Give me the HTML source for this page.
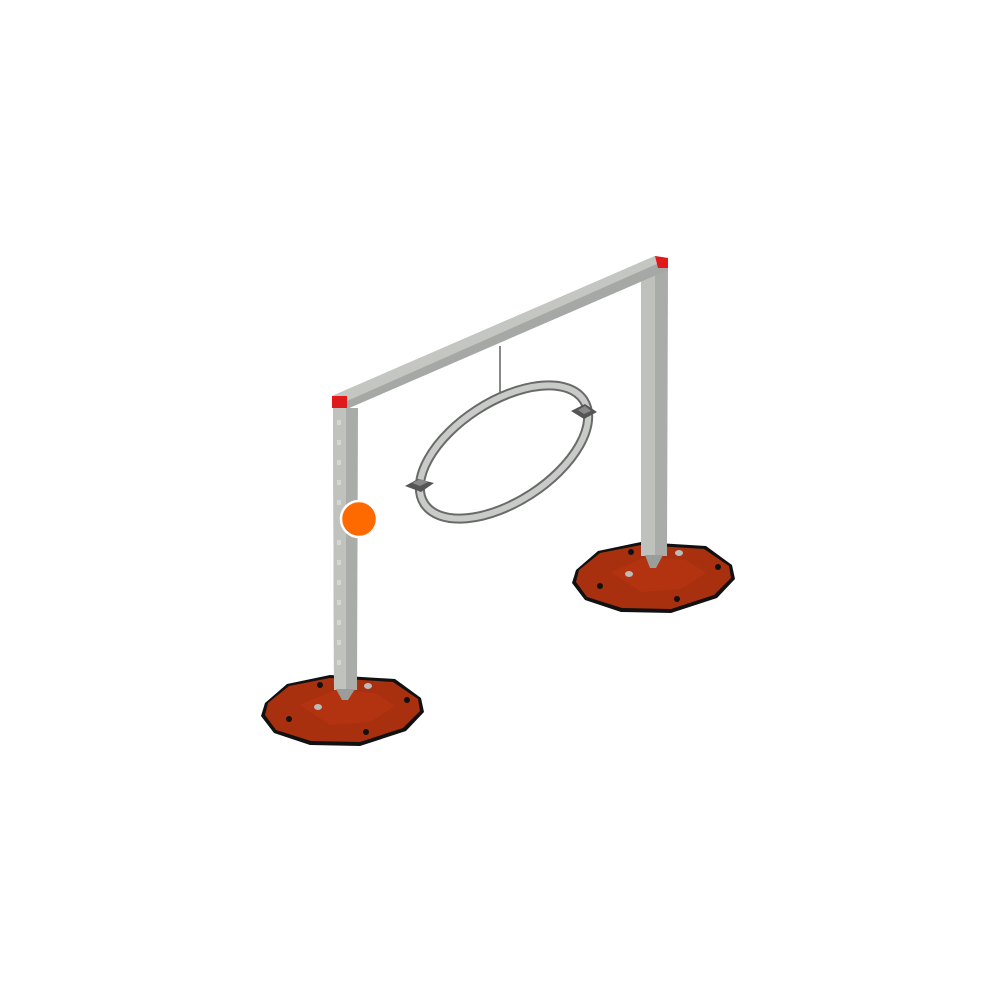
<!DOCTYPE html>
<html><head><style>html,body{margin:0;padding:0;background:#fff;width:1000px;height:1000px;overflow:hidden}</style></head>
<body>
<svg width="1000" height="1000" viewBox="0 0 1000 1000" xmlns="http://www.w3.org/2000/svg">
<defs>
<g id="base">
<polygon points="265,703 287,684 330,675 395,679 421,698 424,712 406,731 360,746 310,745 274,733 261,716" fill="#111"/>
<polygon points="268,703 289,686 330,678 393,682 418,699 420,711 403,728 360,742 311,741 276,730 265,715" fill="#a8300f"/>
<polygon points="300,705 335,690 375,693 395,706 370,722 330,725" fill="#b53512" opacity="0.8"/>
<circle cx="320" cy="685" r="3" fill="#111"/><circle cx="407" cy="700" r="3" fill="#111"/>
<circle cx="366" cy="732" r="3" fill="#111"/><circle cx="289" cy="719" r="3" fill="#111"/>
<ellipse cx="368" cy="686" rx="4" ry="3" fill="#bbb"/><ellipse cx="318" cy="707" rx="4" ry="3" fill="#bbb"/>
</g>
</defs>
<use href="#base"/>
<use href="#base" transform="translate(311,-133)"/>
<!-- right post -->
<polygon points="641,268 668,268 667,556 641,556" fill="#a9aca8"/>
<polygon points="641,268 655,268 655,556 641,556" fill="#bfc1bd"/>
<polygon points="645,555 663,555 656,568 650,568" fill="#9a9d99"/>
<!-- beam -->
<polygon points="332,396 655,256 668,258 668,270 347,409 332,408" fill="#a5a8a4"/>
<polygon points="332,396 655,256 668,259 347,401" fill="#c4c6c2"/>
<rect x="332" y="396" width="15" height="12" fill="#e01a1a"/>
<polygon points="655,256 668,258 668,268 658,268" fill="#e01a1a"/>
<!-- left post -->
<polygon points="333,408 358,408 357,690 334,690" fill="#a9aca8"/>
<polygon points="333,408 346,408 346,690 334,690" fill="#c0c2be"/>
<g fill="#d4d6d2">
<rect x="337" y="420" width="4" height="5"/><rect x="337" y="440" width="4" height="5"/><rect x="337" y="460" width="4" height="5"/><rect x="337" y="480" width="4" height="5"/><rect x="337" y="500" width="4" height="5"/><rect x="337" y="540" width="4" height="5"/><rect x="337" y="560" width="4" height="5"/><rect x="337" y="580" width="4" height="5"/><rect x="337" y="600" width="4" height="5"/><rect x="337" y="620" width="4" height="5"/><rect x="337" y="640" width="4" height="5"/><rect x="337" y="660" width="4" height="5"/>
</g>
<polygon points="336,689 355,689 348,700 342,700" fill="#9a9d99"/>
<!-- rod -->
<line x1="500" y1="346" x2="500" y2="398" stroke="#888" stroke-width="2"/>
<!-- ring -->
<ellipse cx="504" cy="452" rx="95" ry="50" transform="rotate(-33 504 452)" fill="none" stroke="#6a6a6a" stroke-width="10"/>
<ellipse cx="504" cy="452" rx="95" ry="50" transform="rotate(-33 504 452)" fill="none" stroke="#c9cbc9" stroke-width="6"/>
<polygon points="405,486 418,479 434,483 421,492" fill="#555"/>
<polygon points="412,483 420,479 428,482 420,486" fill="#888"/>
<polygon points="571,411 585,404 597,412 584,419" fill="#555"/>
<polygon points="578,410 585,406 591,411 584,414" fill="#888"/>
<!-- marker -->
<circle cx="359" cy="519" r="18" fill="#ff6a00" stroke="#fff" stroke-width="2.5"/>
</svg>
</body></html>
